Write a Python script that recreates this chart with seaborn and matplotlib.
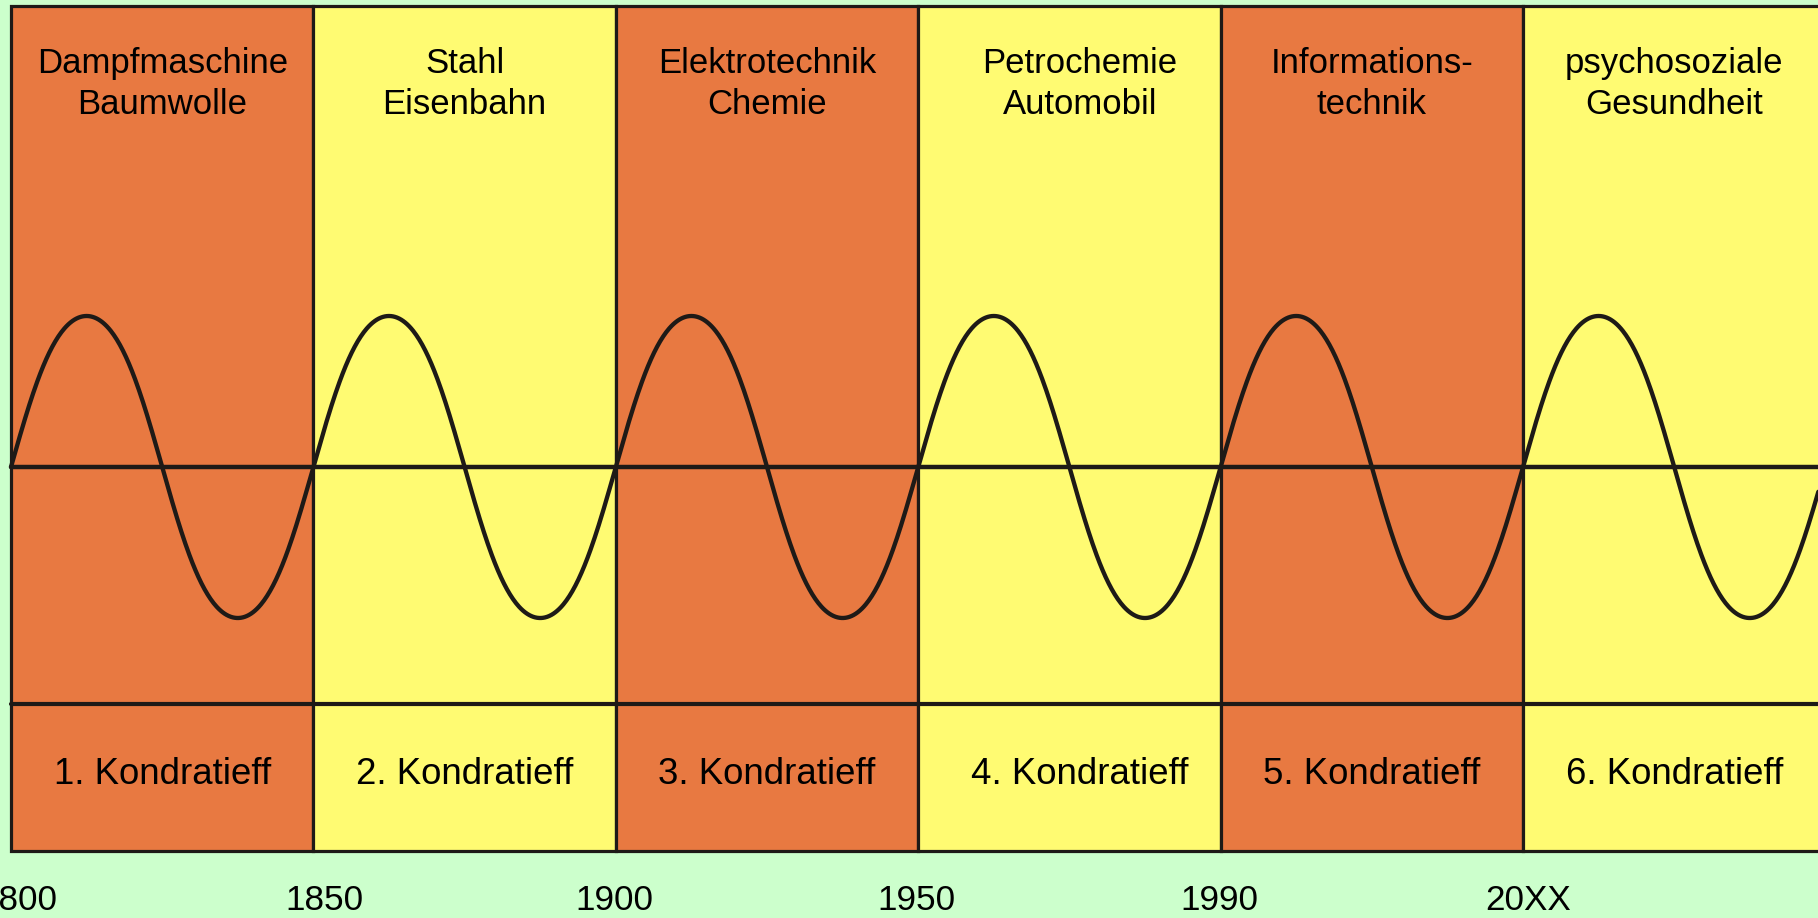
import numpy as np
import pandas as pd
import matplotlib
matplotlib.use("Agg")
import matplotlib.pyplot as plt
import seaborn as sns

# ---- data ----
innovations = ["Dampfmaschine\nBaumwolle", "Stahl\nEisenbahn", "Elektrotechnik\nChemie",
               "Petrochemie\nAutomobil", "Informations-\ntechnik", "psychosoziale\nGesundheit"]
cycles = ["1. Kondratieff", "2. Kondratieff", "3. Kondratieff",
          "4. Kondratieff", "5. Kondratieff", "6. Kondratieff"]
year_labels = ["1800", "1850", "1900", "1950", "1990", "20XX"]
cycle_start = [0, 1, 2, 3, 4, 5]          # cycle index (panel position)
panel_colors = ["#E87941", "#FFFB72", "#E87941", "#FFFB72", "#E87941", "#FFFB72"]

# layout nudges (in panel units)
label_nudge = [0, 0, 0, 0.035, 0, 0]
year_nudge = [0.023, 0.036, -0.005, -0.005, -0.005, 0.017]

BG = "#CCFFCC"
INK = "#1E1A17"

sns.set_theme(style="white")
plt.rcParams["font.family"] = ["Liberation Sans", "DejaVu Sans"]

fig = plt.figure(figsize=(18.18, 9.18), dpi=100, facecolor=BG)
ax = fig.add_axes([0, 0, 1, 1])
ax.set_facecolor(BG)

PX = 302.4        # pixels per cycle panel
AMP = 151.0       # pixels per unit amplitude
x0_px, zero_px = 11, 467
ax.set_xlim(-x0_px / PX, (1818 - x0_px) / PX)
ax.set_ylim(-(918 - zero_px) / AMP, zero_px / AMP)

top = (zero_px - 6) / AMP
sep = -(704 - zero_px) / AMP
bottom = -(851 - zero_px) / AMP

# panels
ax.bar(cycle_start, top - bottom, width=1.0, bottom=bottom, align="edge",
       color=panel_colors, edgecolor=INK, linewidth=2.3, zorder=1)

# separator and zero line
ax.plot([0, 7], [sep, sep], color=INK, lw=3.0, zorder=2)
ax.plot([0, 7], [0, 0], color=INK, lw=3.2, zorder=3)

# schematic long wave (one full oscillation per cycle)
b = 0.03
phase = np.linspace(0, 6, 1801)
ang = 2 * np.pi * phase
wave = pd.DataFrame({"t": phase, "v": (np.sin(ang) + b * np.sin(3 * ang)) / (1 - b)})
sns.lineplot(data=wave, x="t", y="v", ax=ax, color=INK, lw=3.1, zorder=4,
             estimator=None, sort=False)

# texts
for i, (inn, cyc) in enumerate(zip(innovations, cycles)):
    cx = cycle_start[i] + 0.5 + label_nudge[i]
    ax.text(cx, (zero_px - 84) / AMP, inn, ha="center", va="center",
            fontsize=25, color="black", linespacing=1.3, zorder=5)
    ax.text(cx, -(775 - zero_px) / AMP, cyc, ha="center", va="center",
            fontsize=26.4, color="black", zorder=5)

for i, yl in enumerate(year_labels):
    ax.text(cycle_start[i] + year_nudge[i], -(900 - zero_px) / AMP, yl, ha="center",
            va="center", fontsize=25.3, color="black", zorder=5)

ax.set_axis_off()
if ax.get_legend() is not None:
    ax.get_legend().remove()
fig.savefig("out.png", dpi=100, facecolor=BG)
